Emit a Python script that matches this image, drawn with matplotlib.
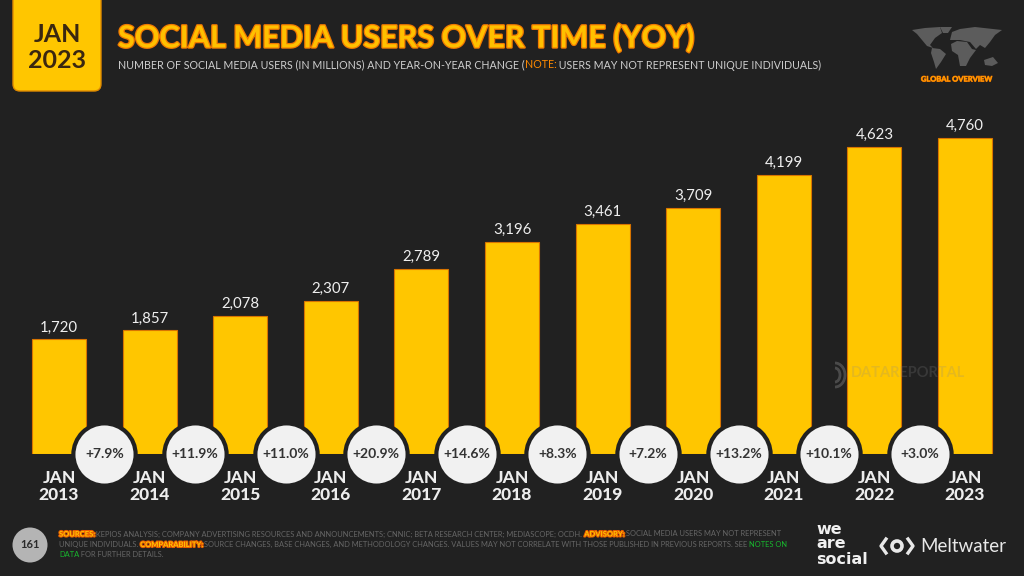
import matplotlib
matplotlib.use('Agg')
import matplotlib.pyplot as plt
import matplotlib.patheffects as pe
from matplotlib.patches import FancyBboxPatch, Circle, Polygon, Arc

# Values
years = ['2013', '2014', '2015', '2016', '2017', '2018', '2019', '2020', '2021', '2022', '2023']
users = [1720, 1857, 2078, 2307, 2789, 3196, 3461, 3709, 4199, 4623, 4760]
changes = ['+7.9%', '+11.9%', '+11.0%', '+20.9%', '+14.6%', '+8.3%', '+7.2%', '+13.2%', '+10.1%', '+3.0%']

BG = '#212121'
YELLOW = '#FFC600'
ORANGE = '#FF8A00'
FONT = ['Lato', 'DejaVu Sans']

plt.rcParams['font.family'] = FONT

fig = plt.figure(figsize=(10.24, 5.76), dpi=100, facecolor=BG)


def px_rect(left, top, right, bottom):
    return [left / 1024, 1 - bottom / 576, (right - left) / 1024, (bottom - top) / 576]


# Main bars
ax = fig.add_axes(px_rect(13.7, 122, 1010.3, 453.5))
ax.set_facecolor('none')
xs = list(range(len(users)))
ax.bar(xs, users, width=0.596, color=YELLOW, edgecolor='#D87400', linewidth=0.8, zorder=2)
ax.set_xlim(-0.5, 10.5)
ax.set_ylim(0, 5000)
for spine in ax.spines.values():
    spine.set_visible(False)
ax.set_yticks([])
ax.set_xticks(xs)
ax.set_xticklabels(['JAN\n' + y for y in years], fontsize=12.5, fontweight='black',
                   color='#EDEDED', linespacing=1.1)
ax.tick_params(axis='x', length=0, pad=12)

for x, v in zip(xs, users):
    ax.annotate(f'{v:,}', (x, v), xytext=(0, 3.5), textcoords='offset points', ha='center', va='bottom',
                fontsize=10.8, color='#EFEFEF', zorder=5)

# Year-on-year circles sit between the bars, on the baseline
for i, label in enumerate(changes):
    ax.scatter(i + 0.5, 0, s=2010, color='#F1F1F1', edgecolor=BG, linewidth=3.0, zorder=4, clip_on=False)
    ax.text(i + 0.5, 0, label, ha='center', va='center', fontsize=10, fontweight='bold',
            color='#333333', zorder=5, clip_on=False)

# Everything else is placed in pixel coordinates
ov = fig.add_axes([0, 0, 1, 1])
ov.set_xlim(0, 1024)
ov.set_ylim(576, 0)
ov.axis('off')
ov.patch.set_alpha(0)

ov.add_patch(FancyBboxPatch((13, -12), 88, 103, boxstyle='round,pad=0,rounding_size=7',
                            facecolor=YELLOW, edgecolor='#E08A00', linewidth=1))
ov.text(57, 35, 'JAN', ha='center', va='center', fontsize=18, fontweight='bold', color='#3A2710')
ov.text(57, 60, '2023', ha='center', va='center', fontsize=18, fontweight='bold', color='#3A2710')

ov.text(118, 38, 'SOCIAL MEDIA USERS OVER TIME (YOY)', ha='left', va='center', fontsize=22,
        fontweight='bold', color='#FFC000',
        path_effects=[pe.withStroke(linewidth=1.8, foreground='#F07800')])


def text_run(x, y, parts, size):
    # parts are (string, colour, weight) drawn one after the other
    rend = fig.canvas.get_renderer()
    for s, color, weight in parts:
        t = ov.text(x, y, s, ha='left', va='center', fontsize=size, color=color, fontweight=weight)
        if weight == 'bold' and color == YELLOW:
            t.set_path_effects([pe.withStroke(linewidth=1.5, foreground='#E85A00')])
        x += t.get_window_extent(rend).width
    return x


SUB = '#CFCFCF'
text_run(118, 65, [('NUMBER OF SOCIAL MEDIA USERS (IN MILLIONS) AND YEAR-ON-YEAR CHANGE (', SUB, 'normal'),
                   ('NOTE:', ORANGE, 'normal'),
                   (' USERS MAY NOT REPRESENT UNIQUE INDIVIDUALS)', SUB, 'normal')], 7.7)

# Rough world map in the corner
MAP = '#5C5C5C'
continents = [
    [(912, 30), (925, 28), (940, 27), (942, 33), (935, 38), (930, 45), (933, 48), (927, 46), (922, 40), (917, 34)],
    [(940, 27), (952, 27), (948, 33), (943, 33)],
    [(932, 48), (940, 49), (946, 54), (941, 62), (936, 69), (934, 62), (931, 53)],
    [(951, 44), (957, 41), (967, 42), (972, 49), (976, 50), (970, 58), (966, 66), (960, 66), (958, 55), (952, 51)],
    [(950, 40), (952, 32), (960, 29), (975, 27), (1002, 30), (995, 35), (990, 42), (985, 48), (980, 45), (976, 49),
     (970, 42), (960, 40)],
    [(984, 60), (993, 57), (998, 63), (992, 66), (985, 65)],
]
for c in continents:
    ov.add_patch(Polygon(c, closed=True, facecolor=MAP, edgecolor='none'))
ov.text(956.5, 79, 'GLOBAL OVERVIEW', ha='center', va='center', fontsize=5.4, fontweight='bold', color='#FFA000',
        path_effects=[pe.withStroke(linewidth=0.6, foreground='#E86A00')])

# Watermark
ov.text(851, 373, 'DATAREPORTAL', ha='left', va='center', fontsize=10.5, fontweight='bold',
        color='#8A8A8A', alpha=0.22, zorder=3)
ov.add_patch(Arc((835, 375), 10, 14, theta1=-90, theta2=90, color='#8A8A8A', alpha=0.4, lw=2))
ov.add_patch(Arc((835, 375), 20, 24, theta1=-90, theta2=90, color='#8A8A8A', alpha=0.4, lw=2))

# Footer
ov.add_patch(Circle((30, 545), 17.5, facecolor='#B4B4B4', edgecolor='none'))
ov.text(30, 545, '161', ha='center', va='center', fontsize=8, fontweight='bold', color='#2A2A2A')

NOTE = '#666666'
GREEN = '#18B82E'
text_run(59, 534, [('SOURCES:', YELLOW, 'bold'),
                   (' KEPIOS ANALYSIS; COMPANY ADVERTISING RESOURCES AND ANNOUNCEMENTS; CNNIC; BETA RESEARCH CENTER; '
                    'MEDIASCOPE; OCDH. ', NOTE, 'normal'),
                   ('ADVISORY:', YELLOW, 'bold'),
                   (' SOCIAL MEDIA USERS MAY NOT REPRESENT', NOTE, 'normal')], 5.45)
text_run(59, 544.5, [('UNIQUE INDIVIDUALS. ', NOTE, 'normal'),
                     ('COMPARABILITY:', YELLOW, 'bold'),
                     (' SOURCE CHANGES, BASE CHANGES, AND METHODOLOGY CHANGES. VALUES MAY NOT CORRELATE WITH THOSE '
                      'PUBLISHED IN PREVIOUS REPORTS. SEE ', NOTE, 'normal'),
                     ('NOTES ON', GREEN, 'normal')], 5.45)
text_run(59, 554.5, [('DATA', GREEN, 'normal'), (' FOR FURTHER DETAILS.', NOTE, 'normal')], 5.45)

# Tight stacked logo, three separate words
for y, word in zip([529, 544, 559], ['we', 'are', 'social']):
    ov.text(816, y, word, ha='left', va='center', fontsize=11.5, fontweight='bold', color='#F0F0F0',
            family=['DejaVu Sans'])

# Meltwater mark
ov.add_patch(Circle((897, 546), 5, facecolor='none', edgecolor='#E8E8E8', linewidth=2.6))
ov.plot([886, 881, 886], [539, 546, 553], color='#E8E8E8', lw=2.4)
ov.plot([908, 913, 908], [539, 546, 553], color='#E8E8E8', lw=2.4)
ov.text(920, 546, 'Meltwater', ha='left', va='center', fontsize=13.5, color='#E8E8E8')

fig.savefig('out.png', dpi=100, facecolor=BG)
